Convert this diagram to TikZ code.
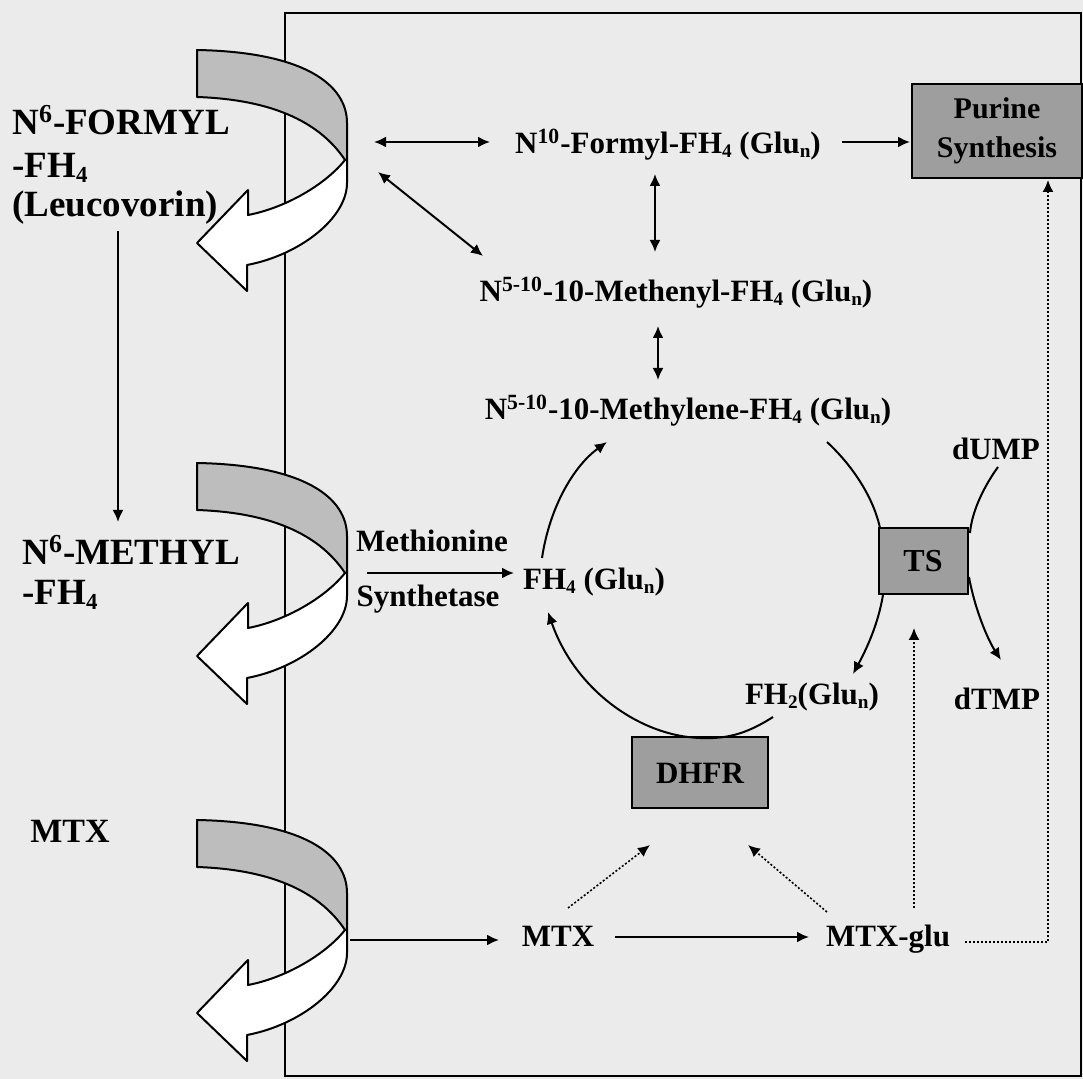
\documentclass[tikz,border=0pt]{standalone}
\usepackage{fontspec}
\usepackage{graphicx}
\setmainfont{Liberation Serif}
\usetikzlibrary{arrows.meta}
\definecolor{bg}{HTML}{EBEBEB}
\definecolor{boxgray}{HTML}{9E9E9E}
\definecolor{ribbon}{HTML}{BDBDBD}
\newcommand{\sbs}[1]{\raisebox{-0.12em}{\scalebox{0.62}{#1}}}
\newcommand{\foldarrow}[2]{%
 \begin{scope}[shift={(#1,#2)}]
  \filldraw[fill=ribbon, line width=1pt, line join=round] (-148,-110) .. controls (-40,-108) and (2,-75) .. (2,-37) -- (2,0) -- (0,0) .. controls (-20,-30) and (-60,-60) .. (-148,-63) -- cycle;
  \filldraw[fill=white, line width=1pt, line join=round] (0,0) -- (2,0) -- (2,23) .. controls (2,58) and (-45,95) .. (-98,105) -- (-98,131) -- (-148,83) -- (-97,30) -- (-97,55) .. controls (-60,48) and (-20,25) .. (0,0) -- cycle;
 \end{scope}}
\begin{document}
\begin{tikzpicture}[x=0.5pt,y=-0.5pt,
  every node/.style={font=\bfseries\fontsize{15.5}{18}\selectfont, inner sep=0pt},
  leftlbl/.style={font=\bfseries\fontsize{18.5}{22}\selectfont, anchor=base west},
  lbl/.style={anchor=base},
  enzyme/.style={draw, line width=1pt, fill=boxgray},
  tip/.tip={Latex[length=6pt,width=5.5pt]},
  arr/.style={-tip, line width=1pt},
  darr/.style={tip-tip, line width=1pt},
  dotarr/.style={dash pattern=on 1pt off 1pt, line width=0.8pt, -tip}
]
\fill[bg] (0,0) rectangle (1083,1079);
\useasboundingbox (0,0) rectangle (1083,1079);
% cell
\draw[line width=1pt] (285,13) rectangle (1081,1076);
% membrane fold arrows
\foldarrow{345}{160}
\foldarrow{345}{573}
\foldarrow{345}{930}

% left labels
\node[leftlbl] (formyl) at (12,135) {N\textsuperscript{6}-FORMYL};
\node[leftlbl] (fh4a) at (12,178) {-FH\sbs{4}};
\node[leftlbl] (leuco) at (12,217) {(Leucovorin)};
\node[leftlbl] (methyl) at (22,565) {N\textsuperscript{6}-METHYL};
\node[leftlbl] (fh4b) at (22,605) {-FH\sbs{4}};
\node[leftlbl, font=\bfseries\fontsize{17}{20}\selectfont] (mtx1) at (30,843) {MTX};

% centre labels
\node[lbl] (f10) at (668,154) {N\textsuperscript{10}-Formyl-FH\sbs{4} (Glu\sbs{n})};
\node[lbl] (methenyl) at (676,302) {N\textsuperscript{5-10}-10-Methenyl-FH\sbs{4} (Glu\sbs{n})};
\node[lbl] (methylene) at (688,420) {N\textsuperscript{5-10}-10-Methylene-FH\sbs{4} (Glu\sbs{n})};
\node[lbl] (fh4) at (594,590) {FH\sbs{4} (Glu\sbs{n})};
\node[lbl] (fh2) at (812,705) {FH\sbs{2}(Glu\sbs{n})};
\node[lbl] (dump) at (996,460) {dUMP};
\node[lbl] (dtmp) at (997,710) {dTMP};
\node[lbl] (mtx2) at (558,947) {MTX};
\node[lbl] (mtxglu) at (888,947) {MTX-glu};
\node[lbl] (meth) at (432,552) {Methionine};
\node[lbl] (synth) at (428,607) {Synthetase};

% enzyme boxes
\node[enzyme, minimum width=85pt, minimum height=47pt, align=center, font=\bfseries\fontsize{15}{19.5}\selectfont] (purine) at (997,131) {Purine\\Synthesis};
\node[enzyme, minimum width=44.5pt, minimum height=33pt, font=\bfseries\fontsize{16}{18}\selectfont] (ts) at (923,561) {TS};
\node[enzyme, minimum width=68pt, minimum height=35.5pt] (dhfr) at (700,773) {DHFR};

% free ends
\coordinate (p1) at (374,142);
\coordinate (p2) at (490,142);
\coordinate (p3) at (378,172);
\coordinate (p4) at (483,256);
\coordinate (p5) at (655,174);
\coordinate (p6) at (655,252);
\coordinate (p7) at (842,142);
\coordinate (p8) at (910,142);
\coordinate (p9) at (658,326);
\coordinate (p10) at (658,380);
\coordinate (lv1) at (118,231);
\coordinate (lv2) at (118,522);
\coordinate (ms1) at (367,573);
\coordinate (ms2) at (514,573);
\coordinate (c1) at (542,558);
\coordinate (c2) at (607,442);
\coordinate (c3) at (827,442);
\coordinate (c4) at (880,528);
\coordinate (c5) at (883,595);
\coordinate (c6) at (853,674);
\coordinate (c7) at (998,467);
\coordinate (c8) at (970,533);
\coordinate (c9) at (969,577);
\coordinate (c10) at (1001,660);
\coordinate (c11) at (773,717);
\coordinate (c12) at (548,612);
\coordinate (m1) at (350,940);
\coordinate (m2) at (499,940);
\coordinate (m3) at (615,937);
\coordinate (m4) at (809,937);
\coordinate (d1) at (568,908);
\coordinate (d2) at (650,845);
\coordinate (d3) at (827,912);
\coordinate (d4) at (748,845);
\coordinate (d5) at (914,908);
\coordinate (d6) at (914,628);
\coordinate (d7) at (965,942);
\coordinate (d8) at (1048,942);
\coordinate (d9) at (1048,180);

% connectors
\draw[darr] (p1) -- (p2);
\draw[darr] (p3) -- (p4);
\draw[darr] (p5) -- (p6);
\draw[arr] (p7) -- (p8);
\draw[darr] (p9) -- (p10);
\draw[arr] (lv1) -- (lv2);
\draw[arr] (ms1) -- (ms2);
\draw[arr] (c1) .. controls (550,505) and (575,465) .. (c2);
\draw[line width=1pt] (c3) .. controls (855,468) and (874,500) .. (c4);
\draw[arr] (c5) .. controls (878,625) and (866,650) .. (c6);
\draw[line width=1pt] (c7) .. controls (985,485) and (972,510) .. (c8);
\draw[arr] (c9) .. controls (975,610) and (988,640) .. (c10);
\draw[arr] (c11) .. controls (745,735) and (725,739) .. (700,738) .. controls (640,736) and (575,690) .. (c12);
\draw[arr] (m1) -- (m2);
\draw[arr] (m3) -- (m4);
\draw[dotarr] (d1) -- (d2);
\draw[dotarr] (d3) -- (d4);
\draw[dotarr] (d5) -- (d6);
\draw[dotarr] (d7) -- (d8) -- (d9);
\end{tikzpicture}
\end{document}
